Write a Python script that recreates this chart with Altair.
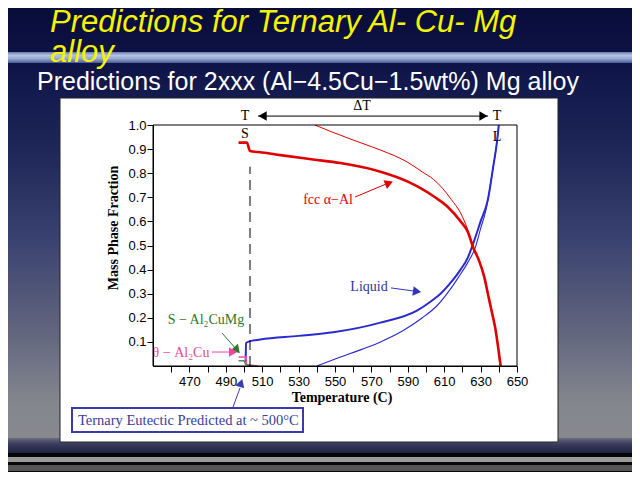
import altair as alt
import pandas as pd

# ---------------- data ----------------
# Scheil fcc alpha-Al (thick red)
fcc_scheil_T = [497, 501.6, 503.3, 510, 520, 538, 553, 575, 590, 597, 605, 612, 619, 623, 626, 629, 632, 634, 636, 638, 641]
fcc_scheil_v = [0.927, 0.927, 0.892, 0.886, 0.875, 0.857, 0.842, 0.806, 0.765, 0.738, 0.70, 0.66, 0.60, 0.556, 0.49, 0.44, 0.37, 0.30, 0.23, 0.16, 0.0]
# Equilibrium fcc alpha-Al (thin red)
fcc_eq_T = [539, 547, 557, 566, 575, 590, 598, 604, 609, 614, 619, 623, 625.4, 629, 632, 634, 636, 638, 641]
fcc_eq_v = [1.0, 0.975, 0.946, 0.921, 0.896, 0.845, 0.805, 0.775, 0.738, 0.69, 0.635, 0.565, 0.51, 0.44, 0.37, 0.30, 0.23, 0.16, 0.0]
# Scheil liquid (thick blue)
liq_scheil_T = [500.9, 501.1, 503, 509, 530, 549, 575, 595, 603, 608, 614, 619, 623, 626, 630, 634, 637, 639, 640]
liq_scheil_v = [0.015, 0.095, 0.102, 0.11, 0.125, 0.14, 0.18, 0.23, 0.27, 0.30, 0.35, 0.40, 0.45, 0.51, 0.60, 0.69, 0.83, 0.93, 1.0]
# Equilibrium liquid (thin blue)
liq_eq_T = [540, 553, 565, 575, 587, 598, 606, 613, 618, 623, 627, 630, 633, 634, 637, 639, 640]
liq_eq_v = [0.0, 0.037, 0.07, 0.10, 0.145, 0.20, 0.25, 0.315, 0.37, 0.43, 0.49, 0.57, 0.65, 0.69, 0.83, 0.93, 1.0]
# theta - Al2Cu (pink) and S - Al2CuMg (green)
theta_T = [497, 501, 501.5, 508]
theta_v = [0.037, 0.037, 0.005, 0.0]
s_T = [497, 500, 501, 505]
s_v = [0.022, 0.022, 0.006, 0.0]

x_tick_values = [460, 470, 480, 490, 500, 510, 520, 530, 540, 550, 560, 570, 580, 590, 600, 610, 620, 630, 640, 650]
y_tick_values = [0.1, 0.2, 0.3, 0.4, 0.5, 0.6, 0.7, 0.8, 0.9, 1.0]

T_solidus = 503.3

# annotations (data coordinates)
ann_text = ["T", "S", "\u0394T", "T", "L", "fcc \u03b1\u2212Al", "Liquid", "S \u2212 Al\u2082CuMg", "\u03b8 \u2212 Al\u2082Cu"]
ann_T = [500.5, 500.5, 564.8, 639.0, 639.0, 546.2, 568.7, 479.1, 465.4]
ann_v = [1.037, 0.963, 1.079, 1.037, 0.950, 0.689, 0.328, 0.191, 0.054]
ann_col = ["#000000", "#000000", "#000000", "#000000", "#000000", "#dd0000", "#333399", "#2a7a2a", "#e8489a"]

arr_T1 = [507.7, 561.0, 580.8, 487.9, 482.4]
arr_v1 = [1.037, 0.701, 0.324, 0.137, 0.058]
arr_T2 = [634.1, 578.0, 593.4, 495.1, 492.3]
arr_v2 = [1.037, 0.755, 0.311, 0.075, 0.058]
arr_col = ["#000000", "#dd0000", "#3333bb", "#2a7a2a", "#ff3fa0"]

head_T = [510.2, 631.6, 579.7, 595.1, 496.2, 494.0]
head_v = [1.037, 1.037, 0.759, 0.309, 0.066, 0.058]
head_ang = [180, 0, 338, 8, 48, 0]
head_col = ["#000000", "#000000", "#dd0000", "#3333bb", "#2a7a2a", "#ff3fa0"]

# ---------------- layout ----------------
W, H = 364, 241
PAD = {"left": 145, "top": 117, "right": 115, "bottom": 106}
SERIF = "Liberation Serif"
SANS = "Liberation Sans"

xs = alt.Scale(domain=[450, 650], nice=False, zero=False)
ys = alt.Scale(domain=[0, 1], nice=False, zero=False)
x_axis = alt.Axis(values=x_tick_values, labelExpr="datum.value % 20 == 10 ? datum.label : ''",
                  format="d", tickSize=6, labelPadding=3, labelFont=SANS, labelFontSize=13,
                  labelColor="black", domainColor="black", tickColor="black", grid=False,
                  title=None, zindex=1, labelFlush=False, labelOverlap=False)
y_axis = alt.Axis(values=y_tick_values, format=".1f", tickSize=6, labelPadding=1, labelFont=SANS,
                  labelFontSize=13, labelColor="black", domainColor="black", tickColor="black",
                  grid=False, title=None, zindex=1, labelFlush=False, labelOverlap=False)


def X(f="T"):
    return alt.X(f"{f}:Q", scale=xs, axis=x_axis)


def Y(f="v"):
    return alt.Y(f"{f}:Q", scale=ys, axis=y_axis)


one = pd.DataFrame({"k": [0]})


def px_rect(x1, x2, y1, y2, **mark):
    return alt.Chart(one).mark_rect(**mark).encode(
        x=alt.value(x1), x2=alt.value(x2), y=alt.value(y1), y2=alt.value(y2))


def px_text(s, x, y, **mark):
    return alt.Chart(one).mark_text(**mark).encode(x=alt.value(x), y=alt.value(y), text=alt.value(s))


def grad(stops):
    return {"gradient": "linear", "x1": 0, "x2": 0, "y1": 0, "y2": 1,
            "stops": [{"offset": o, "color": c} for o, c in stops]}


layers = []
# slide background
layers.append(px_rect(-145, 479, -117, 347, fill=grad([
    (0.0, "#080c38"), (0.12, "#0e1448"), (0.3, "#1e2658"), (0.5, "#3a4270"),
    (0.7, "#62667e"), (0.85, "#84868e"), (1.0, "#8c8c90")])))
# light band under title
layers.append(px_rect(-145, 479, -73, -62, fill=grad([
    (0.0, "#6878b0"), (0.3, "#b4c4e4"), (0.6, "#9aaad0"), (1.0, "#4a5a98")])))
# dark shadow under panel
layers.append(px_rect(-145, 479, 313, 328, fill=grad([
    (0.0, "#6a6c80"), (0.4, "#3a3c5c"), (1.0, "#202244")])))
# bottom stripes
layers.append(px_rect(-145, 479, 328, 332, fill="#050505"))
layers.append(px_rect(-145, 479, 332, 337, fill="#9a9a9a"))
layers.append(px_rect(-145, 479, 337, 340, fill="#080808"))
layers.append(px_rect(-145, 479, 340, 346, fill="#555555"))
layers.append(px_rect(-145, 479, 346, 347, fill="#080808"))
# white panel
layers.append(px_rect(-93, 405, -27, 317, fill="white", stroke="#222222", strokeWidth=1))

# titles
layers.append(px_text("Predictions for Ternary Al- Cu- Mg", -103, -93, font=SANS, fontSize=31,
                      fontStyle="italic", color="#f4f400", align="left", baseline="alphabetic"))
layers.append(px_text("alloy", -103, -63, font=SANS, fontSize=31,
                      fontStyle="italic", color="#f4f400", align="left", baseline="alphabetic"))
layers.append(px_text("Predictions for 2xxx (Al\u22124.5Cu\u22121.5wt%) Mg alloy", -116, -35, font=SANS,
                      fontSize=25, color="white", align="left", baseline="alphabetic"))

# axis titles
layers.append(px_text("Mass Phase Fraction", -39, 103, font=SERIF, fontSize=14, fontWeight="bold",
                      color="black", angle=270, align="center", baseline="middle"))
layers.append(px_text("Temperature (C)", 189, 273, font=SERIF, fontSize=14, fontWeight="bold",
                      color="black", align="center", baseline="middle"))

# curves
def curve(T, v, color, width, interp="monotone"):
    df = pd.DataFrame({"T": T, "v": v, "i": list(range(len(T)))})
    return alt.Chart(df).mark_line(color=color, strokeWidth=width, interpolate=interp).encode(
        x=X(), y=Y(), order="i:Q")


layers.append(curve(liq_eq_T, liq_eq_v, "#2a2ad0", 1.1))
layers.append(curve(liq_scheil_T, liq_scheil_v, "#2a2ad0", 2.0))
layers.append(curve(fcc_eq_T, fcc_eq_v, "#e00000", 1.0))
layers.append(curve(fcc_scheil_T, fcc_scheil_v, "#e00000", 2.6))
layers.append(curve(theta_T, theta_v, "#ff4aa8", 1.5, "linear"))
layers.append(curve(s_T, s_v, "#5a8a5a", 1.5, "linear"))

# plot frame
layers.append(px_rect(0, W, 0, H, fillOpacity=0, stroke="black", strokeWidth=1))

# T_S dashed line
ts = pd.DataFrame({"T": [T_solidus], "v": [0.0], "v2": [0.827]})
layers.append(alt.Chart(ts).mark_rule(color="black", strokeWidth=1, strokeDash=[10, 6]).encode(
    x=X(), y=Y(), y2="v2:Q"))

# arrows
arr = pd.DataFrame({"T": arr_T1, "v": arr_v1, "T2": arr_T2, "v2": arr_v2, "c": arr_col})
layers.append(alt.Chart(arr).mark_rule(strokeWidth=1).encode(
    x=X(), y=Y(), x2="T2:Q", y2="v2:Q", color=alt.Color("c:N", scale=None)))
heads = pd.DataFrame({"T": head_T, "v": head_v, "a": head_ang, "c": head_col})
layers.append(alt.Chart(heads).mark_point(shape="triangle-right", filled=True, opacity=1, size=90,
                                          strokeWidth=0).encode(
    x=X(), y=Y(), angle=alt.Angle("a:Q", scale=None), color=alt.Color("c:N", scale=None)))

# labels
ann = pd.DataFrame({"T": ann_T, "v": ann_v, "s": ann_text, "c": ann_col})
layers.append(alt.Chart(ann).mark_text(font=SERIF, fontSize=14, align="center", baseline="middle").encode(
    x=X(), y=Y(), text="s:N", color=alt.Color("c:N", scale=None)))

# eutectic box + arrow (below the axis)
layers.append(px_rect(-81, 150, 283, 307, fill="white", stroke="#3b3ba8", strokeWidth=2))
layers.append(px_text("Ternary Eutectic Predicted at ~ 500\u00b0C", -75, 296, font=SERIF, fontSize=14.5,
                      color="#3b3b9a", align="left", baseline="middle"))
layers.append(alt.Chart(one).mark_rule(color="#3b3bb8", strokeWidth=1).encode(
    x=alt.value(80), y=alt.value(282), x2=alt.value(87), y2=alt.value(263)))
layers.append(alt.Chart(one).mark_point(shape="triangle-right", filled=True, opacity=1, size=90,
                                        angle=288, color="#3b3bb8", strokeWidth=0).encode(
    x=alt.value(88), y=alt.value(258)))

chart = alt.layer(*layers).properties(
    width=W, height=H, padding=PAD, autosize=alt.AutoSizeParams(type="none"),
    background="#1a2050"
).configure_view(strokeWidth=0)

chart.save("out.html", embed_options={"renderer": "svg", "actions": False})
